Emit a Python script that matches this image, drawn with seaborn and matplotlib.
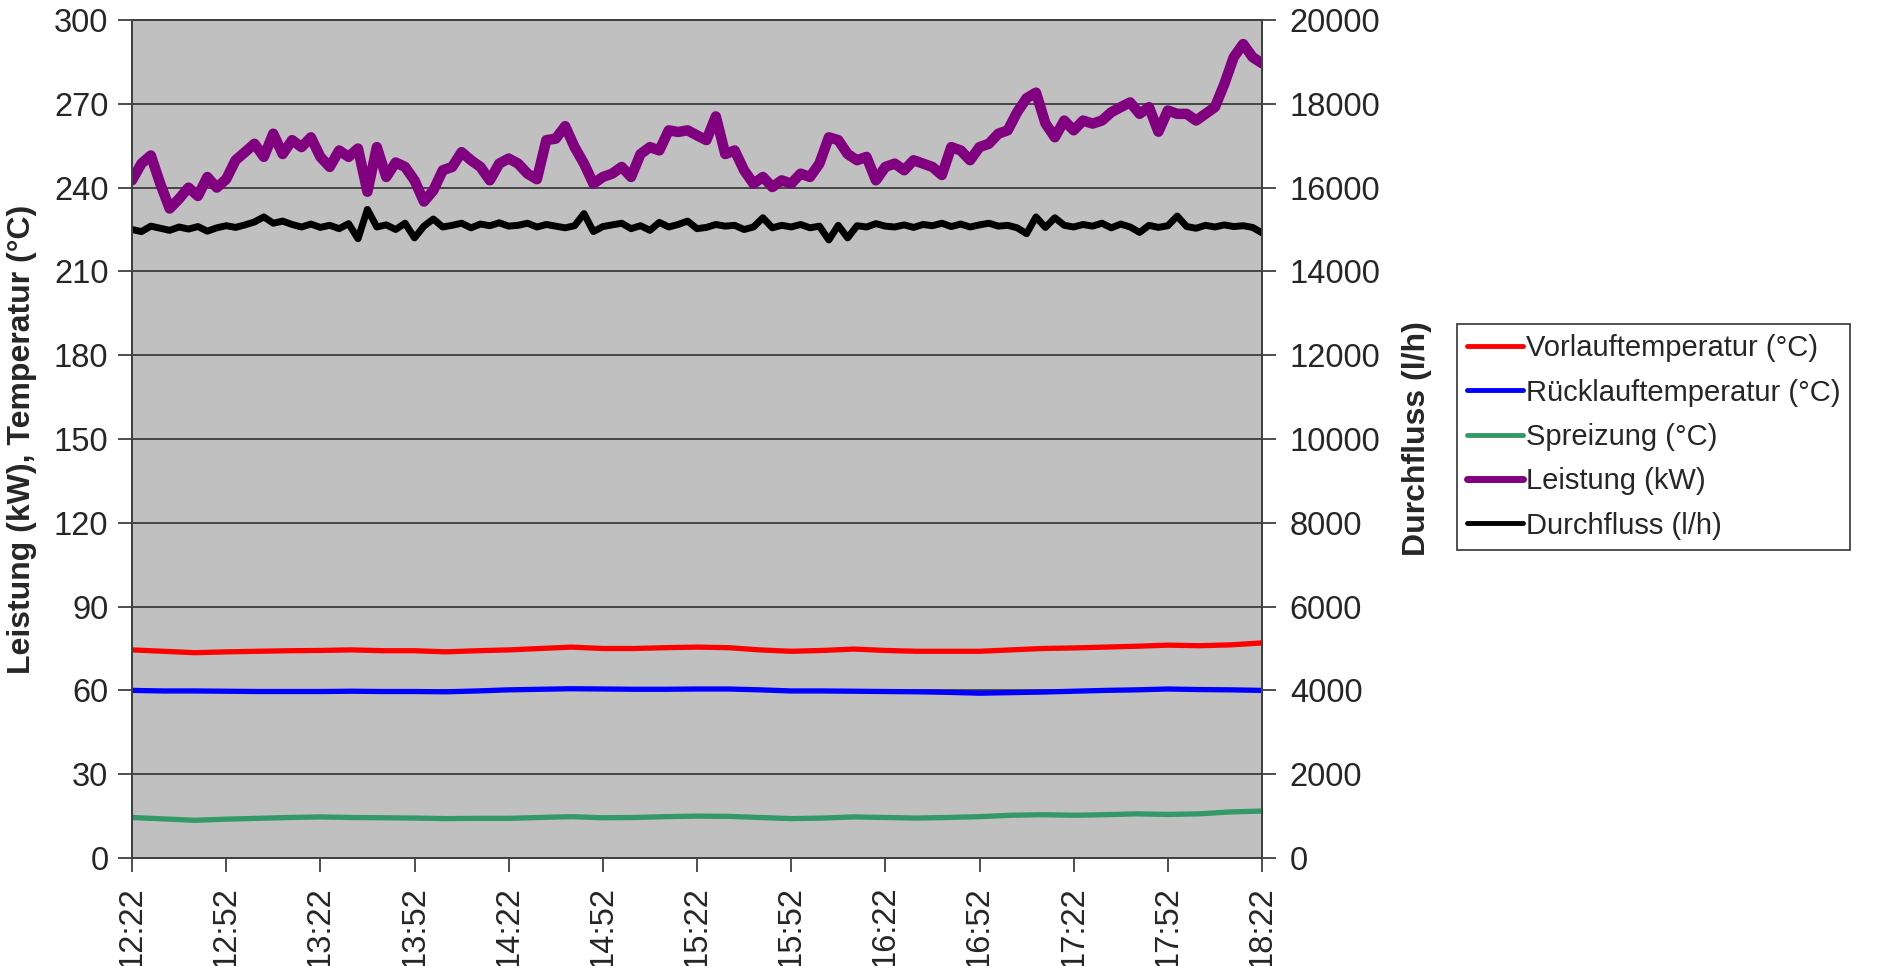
import numpy as np
import pandas as pd
import seaborn as sns
import matplotlib.pyplot as plt
from matplotlib.lines import Line2D

# Minuten seit 12:22
t_fine = np.arange(0, 361, 3)
t_coarse = np.arange(0, 361, 10)

tick_labels = ["12:22", "12:52", "13:22", "13:52", "14:22", "14:52", "15:22",
               "15:52", "16:22", "16:52", "17:22", "17:52", "18:22"]

leistung = [242.6, 248.6, 251.5, 241.4, 232.5, 236, 240, 237, 243.8, 240, 243,
            249.8, 252.7, 255.7, 251, 259.3, 252, 257, 254.5, 258, 251,
            247.4, 253.3, 251, 254, 238.5, 254.5, 243.8, 249, 247.4, 242.6,
            235, 239, 246.2, 247.4, 252.7, 249.8, 247.4, 242.6, 248.6, 250.4,
            248.6, 245, 243, 257, 257.5, 262, 254.5, 248.6, 241.4, 243.8,
            245, 247.4, 243.8, 252, 254.5, 253.3, 260.5, 259.9, 260.5, 258.7,
            257, 265.5, 252, 253.3, 246.2, 241.4, 243.8, 240.2, 242.6, 241.4,
            245, 243.8, 248.6, 258, 257, 252, 249.8, 251, 242.6, 247.4,
            248.6, 246.2, 249.8, 248.6, 247.4, 244.5, 254.5, 253.3, 249.8, 254.5,
            255.7, 259.3, 260.5, 267, 272, 274, 263, 258, 264, 260.5,
            264, 262.9, 264, 267, 268.8, 270.5, 266.4, 268.8, 260, 267.6,
            266.4, 266.4, 264, 266.4, 268.8, 277.1, 286.7, 291.4, 286.7, 284.5]

durchfluss = [15000, 14950, 15080, 15030, 14980, 15060, 15010, 15070, 14960, 15040, 15090,
              15050, 15110, 15180, 15300, 15150, 15200, 15120, 15060, 15130, 15050,
              15100, 15020, 15140, 14780, 15480, 15060, 15110, 15000, 15150, 14800,
              15080, 15250, 15060, 15100, 15150, 15040, 15130, 15090, 15160, 15080,
              15100, 15150, 15060, 15120, 15080, 15040, 15090, 15380, 14950, 15070,
              15110, 15150, 15020, 15090, 14980, 15170, 15060, 15120, 15200, 15020,
              15050, 15120, 15080, 15100, 15000, 15060, 15280, 15040, 15100, 15060,
              15120, 15040, 15080, 14750, 15100, 14800, 15090, 15060, 15140, 15080,
              15060, 15110, 15050, 15120, 15090, 15150, 15070, 15130, 15060, 15110,
              15150, 15080, 15100, 15040, 14900, 15300, 15050, 15280, 15100, 15060,
              15120, 15080, 15150, 15040, 15130, 15060, 14930, 15100, 15050, 15090,
              15320, 15070, 15030, 15100, 15060, 15110, 15070, 15090, 15050, 14920]

vorlauf = [74.5, 74, 73.5, 73.8, 74, 74.2, 74.3, 74.5, 74.2, 74.2,
           73.8, 74.2, 74.5, 75, 75.5, 75, 75, 75.3, 75.5, 75.3,
           74.5, 74, 74.3, 74.8, 74.3, 74, 74, 74, 74.5, 75,
           75.2, 75.5, 75.8, 76.2, 76, 76.3, 77]

ruecklauf = [60, 59.8, 59.8, 59.7, 59.6, 59.6, 59.6, 59.7, 59.6, 59.6,
             59.5, 59.8, 60.2, 60.4, 60.6, 60.5, 60.4, 60.4, 60.5, 60.5,
             60.2, 59.8, 59.8, 59.7, 59.6, 59.5, 59.3, 59.0, 59.2, 59.4,
             59.7, 60.0, 60.2, 60.5, 60.3, 60.2, 60.0]

spreizung = [14.5, 14, 13.5, 13.9, 14.2, 14.5, 14.7, 14.5, 14.4, 14.3,
             14.1, 14.2, 14.2, 14.5, 14.8, 14.4, 14.5, 14.8, 15, 14.9,
             14.5, 14.1, 14.3, 14.7, 14.5, 14.3, 14.5, 14.8, 15.3, 15.5,
             15.3, 15.5, 15.8, 15.6, 15.8, 16.5, 16.8]

sns.set_theme(style="ticks")
plt.rcParams['font.family'] = ['Liberation Sans', 'DejaVu Sans']

fig = plt.figure(figsize=(18.78, 9.66), dpi=100)
ax = fig.add_axes([132/1878, 1 - 858/966, 1130/1878, 838/966])
ax2 = ax.twinx()
ax.set_facecolor('#C0C0C0')

df_fine = pd.DataFrame({'t': t_fine, 'Leistung': leistung, 'Durchfluss': durchfluss})
df_coarse = pd.DataFrame({'t': t_coarse, 'Vorlauf': vorlauf, 'Ruecklauf': ruecklauf,
                          'Spreizung': spreizung})

sns.lineplot(data=df_coarse, x='t', y='Vorlauf', ax=ax, color='#FF0000', lw=3.8, legend=False)
sns.lineplot(data=df_coarse, x='t', y='Ruecklauf', ax=ax, color='#0000FF', lw=3.8, legend=False)
sns.lineplot(data=df_coarse, x='t', y='Spreizung', ax=ax, color='#339966', lw=3.8, legend=False)
sns.lineplot(data=df_fine, x='t', y='Leistung', ax=ax, color='#800080', lw=7.5, legend=False)
sns.lineplot(data=df_fine, x='t', y='Durchfluss', ax=ax2, color='black', lw=5, legend=False)

ax.set_xlim(0, 360)
ax.set_ylim(0, 300)
ax2.set_ylim(0, 20000)
ax.set_yticks(np.arange(0, 301, 30))
ax2.set_yticks(np.arange(0, 20001, 2000))
ax.set_xticks(np.arange(0, 361, 30))
ax.set_xticklabels(tick_labels, rotation=90)

ax.grid(axis='y', color='#303030', lw=1.2)
ax.grid(axis='x', visible=False)
ax2.grid(False)

for a in (ax, ax2):
    for s in a.spines.values():
        s.set_color('#404040')
        s.set_linewidth(1.3)
    a.tick_params(labelsize=23.5, length=10, width=1.3, color='#404040', pad=10)
ax.tick_params(axis='y', pad=7)

ax.set_xlabel('')
ax.set_ylabel('Leistung (kW), Temperatur (°C)', fontsize=23, fontweight='bold')
ax2.set_ylabel('Durchfluss (l/h)', fontsize=23, fontweight='bold')
ax.yaxis.set_label_coords(-0.084, 0.5)
ax2.yaxis.set_label_coords(1.124, 0.5)

handles = [Line2D([], [], color='#FF0000', lw=3.5),
           Line2D([], [], color='#0000FF', lw=3.5),
           Line2D([], [], color='#339966', lw=3.5),
           Line2D([], [], color='#800080', lw=5),
           Line2D([], [], color='black', lw=3.5)]
names = ['Vorlauftemperatur (°C)', 'Rücklauftemperatur (°C)', 'Spreizung (°C)',
         'Leistung (kW)', 'Durchfluss (l/h)']
leg = fig.legend(handles, names, loc='upper left', bbox_to_anchor=(1457/1878, 1 - 324/966),
                 fontsize=21, frameon=True, fancybox=False, shadow=False,
                 handlelength=1.9, handletextpad=0.1, borderaxespad=0, borderpad=0.35,
                 labelspacing=0.56)
leg.get_frame().set_edgecolor('black')
leg.get_frame().set_linewidth(1.2)

fig.savefig('out.png', dpi=100)
